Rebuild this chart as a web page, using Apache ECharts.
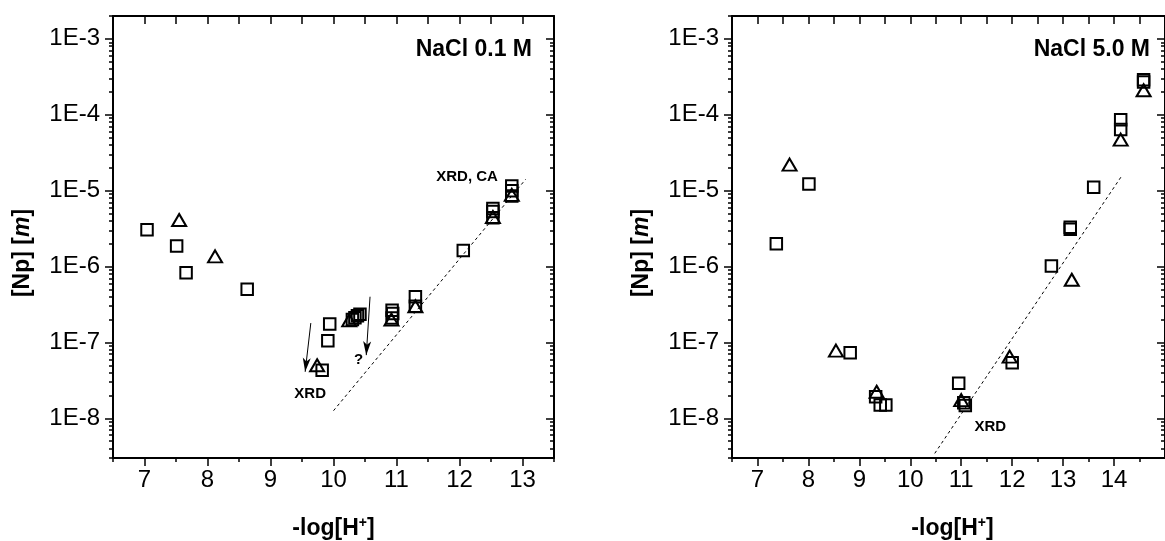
<!DOCTYPE html>
<html><head><meta charset="utf-8">
<script src="https://cdn.jsdelivr.net/npm/echarts@6/dist/echarts.min.js"></script>
<style>html,body{margin:0;padding:0;background:#fff}#c{width:1165px;height:541px}</style>
</head><body><div id="c"></div><script>
// ---------- data ----------
const xTickLabelsLow = [7, 8, 9, 10, 11, 12, 13];
const xTickLabelsHigh = [7, 8, 9, 10, 11, 12, 13, 14];
const yTickValues = [1e-8, 1e-7, 1e-6, 1e-5, 1e-4, 1e-3];

// NaCl 0.1 M panel
const lowSquares = [
  [7.04, 3.05e-6], [7.51, 1.87e-6], [7.66, 8.3e-7], [8.63, 5.0e-7],
  [9.94, 1.75e-7], [9.91, 1.05e-7], [9.82, 4.3e-8],
  [10.30, 2.0e-7], [10.34, 2.12e-7], [10.38, 2.24e-7], [10.42, 2.35e-7],
  [10.93, 2.65e-7], [10.94, 2.4e-7], [10.93, 2.1e-7],
  [11.30, 4.0e-7], [11.30, 3.0e-7],
  [12.06, 1.63e-6], [12.53, 5.8e-6], [12.53, 5.3e-6], [12.53, 4.4e-6],
  [12.83, 1.15e-5], [12.83, 1.0e-5], [12.83, 8.5e-6]
];
const lowTriangles = [
  [7.55, 4.1e-6], [8.12, 1.36e-6], [9.74, 5.0e-8], [10.25, 1.95e-7],
  [10.92, 2.0e-7], [11.30, 3.0e-7], [12.53, 4.5e-6], [12.83, 8.8e-6]
];
const lowFit = [[10.0, 1.26e-8], [13.05, 1.41e-5]];
const lowArrows = [
  [[9.64, 1.8e-7], [9.55, 4.1e-8]],
  [[10.58, 4.0e-7], [10.52, 6.8e-8]]
];
const lowNotes = ['XRD', '?', 'XRD, CA'];
const lowNotePos = [[9.63, 2.1e-8], [10.40, 5.9e-8], [12.12, 1.54e-5]];

// NaCl 5.0 M panel
const highSquares = [
  [7.37, 2.0e-6], [8.01, 1.22e-5], [8.82, 7.3e-8],
  [9.32, 1.93e-8], [9.41, 1.5e-8], [9.52, 1.5e-8],
  [10.95, 2.9e-8], [11.05, 1.6e-8], [11.08, 1.47e-8],
  [12.0, 5.4e-8], [12.77, 1.02e-6], [13.14, 3.3e-6], [13.14, 3.1e-6],
  [13.6, 1.11e-5], [14.13, 8.6e-5], [14.13, 6.4e-5],
  [14.58, 2.9e-4], [14.58, 2.7e-4]
];
const highTriangles = [
  [7.63, 2.2e-5], [8.54, 7.8e-8], [9.34, 2.24e-8], [11.0, 1.74e-8],
  [11.95, 6.5e-8], [13.17, 6.7e-7], [14.13, 4.7e-5], [14.58, 2.1e-4]
];
const highFit = [[10.48, 3.45e-9], [14.15, 1.56e-5]];
const highNotes = ['XRD'];
const highNotePos = [[11.57, 7.7e-9]];

const panelTitles = ['NaCl 0.1 M', 'NaCl 5.0 M'];

// ---------- layout / style ----------
const FONT = '"Liberation Sans", Arial, sans-serif';
const X_MIN = 6.5, X_MAX = [13.5, 15];
const Y_MIN = 3e-9, Y_MAX = 2e-3;
const GRID_LEFT = [113, 732], GRID_TOP = 16, GRID_W = 441, GRID_H = 442;

function halfSteps(min, max) {
  const a = [];
  for (let v = min; v <= max + 1e-9; v += 0.5) a.push(+v.toFixed(1));
  return a;
}
function minorLog(min, max) {
  const a = [];
  for (let d = -9; d <= -3; d++) for (let k = 2; k <= 9; k++) {
    const v = +(k * Math.pow(10, d)).toPrecision(3);
    if (v >= min && v <= max) a.push(v);
  }
  return a;
}
const yMinor = minorLog(Y_MIN, Y_MAX);

const lineBlack = { color: '#000', width: 2 };
const tickBlack = { color: '#000', width: 1.5 };

const grids = [], xAxes = [], yAxes = [], series = [];
[0, 1].forEach(g => {
  grids.push({ left: GRID_LEFT[g], top: GRID_TOP, width: GRID_W, height: GRID_H, containLabel: false });
  const xt = g === 0 ? xTickLabelsLow : xTickLabelsHigh;
  const base = { type: 'value', gridIndex: g, min: X_MIN, max: X_MAX[g], splitLine: { show: false } };
  const xi = xAxes.length;
  xAxes.push(Object.assign({}, base, {
    position: 'bottom',
    axisLine: { show: true, lineStyle: lineBlack },
    axisTick: { show: true, customValues: xt, length: 8, lineStyle: tickBlack },
    axisLabel: { customValues: xt, color: '#000', fontSize: 24, fontFamily: FONT, margin: 10 }
  }));
  xAxes.push(Object.assign({}, base, {
    position: 'bottom',
    axisLine: { show: false },
    axisTick: { show: true, customValues: halfSteps(X_MIN, X_MAX[g]).filter(v => v % 1 !== 0), length: 4, lineStyle: tickBlack },
    axisLabel: { show: false }
  }));
  xAxes.push(Object.assign({}, base, {
    position: 'top',
    axisLine: { show: true, lineStyle: lineBlack },
    axisTick: { show: true, inside: true, customValues: halfSteps(X_MIN, X_MAX[g]), length: 8, lineStyle: tickBlack },
    axisLabel: { show: false }
  }));
  const ybase = { type: 'log', logBase: 10, gridIndex: g, min: Y_MIN, max: Y_MAX, splitLine: { show: false } };
  const yi = yAxes.length;
  yAxes.push(Object.assign({}, ybase, {
    position: 'left',
    axisLine: { show: true, lineStyle: lineBlack },
    axisTick: { show: true, customValues: yTickValues, length: 8, lineStyle: tickBlack },
    axisLabel: { customValues: yTickValues, color: '#000', fontSize: 24, fontFamily: FONT, margin: 13,
      formatter: v => '1E' + Math.round(Math.log10(v)) }
  }));
  yAxes.push(Object.assign({}, ybase, {
    position: 'left',
    axisLine: { show: false },
    axisTick: { show: true, customValues: yMinor, length: 4, lineStyle: tickBlack },
    axisLabel: { show: false }
  }));
  yAxes.push(Object.assign({}, ybase, {
    position: 'right',
    axisLine: { show: true, lineStyle: lineBlack },
    axisTick: { show: true, inside: true, customValues: yTickValues, length: 8, lineStyle: tickBlack },
    axisLabel: { show: false }
  }));
  yAxes.push(Object.assign({}, ybase, {
    position: 'right',
    axisLine: { show: false },
    axisTick: { show: true, inside: true, customValues: yMinor, length: 4, lineStyle: tickBlack },
    axisLabel: { show: false }
  }));

  const sq = g === 0 ? lowSquares : highSquares;
  const tr = g === 0 ? lowTriangles : highTriangles;
  const fit = g === 0 ? lowFit : highFit;
  const arrows = g === 0 ? lowArrows : [];
  const notes = g === 0 ? lowNotes : highNotes;
  const notePos = g === 0 ? lowNotePos : highNotePos;
  const hollow = { color: 'rgba(0,0,0,0)', borderColor: '#000', borderWidth: 2, opacity: 1 };

  series.push({
    type: 'line', xAxisIndex: xi, yAxisIndex: yi, data: fit, symbol: 'none', silent: true,
    lineStyle: { color: '#000', width: 1, type: [3, 3] }, z: 2,
    markLine: arrows.length ? {
      silent: true, symbol: ['none', 'arrow'], symbolSize: [6, 14], precision: 10,
      label: { show: false }, lineStyle: { color: '#000', width: 1, type: 'solid', opacity: 1 },
      data: arrows.map(a => [{ coord: a[0] }, { coord: a[1] }])
    } : undefined
  });
  series.push({
    type: 'scatter', xAxisIndex: xi, yAxisIndex: yi, data: sq, symbol: 'rect', symbolSize: 11.5,
    itemStyle: hollow, z: 3, silent: true
  });
  series.push({
    type: 'scatter', xAxisIndex: xi, yAxisIndex: yi, data: tr, symbol: 'triangle', symbolSize: [14, 12],
    itemStyle: hollow, z: 3, silent: true
  });
  series.push({
    type: 'scatter', xAxisIndex: xi, yAxisIndex: yi, symbolSize: 1, silent: true,
    itemStyle: { color: 'rgba(0,0,0,0)', opacity: 1 },
    data: notes.map((t, i) => ({ name: t, value: notePos[i] })),
    label: { show: true, position: 'inside', formatter: p => p.name, color: '#000',
      fontSize: 15, fontWeight: 'bold', fontFamily: FONT }
  });
});

const titleRich = {
  b: { fontSize: 23, fontWeight: 'bold', fontFamily: FONT, color: '#000', lineHeight: 26 },
  i: { fontSize: 23, fontWeight: 'bold', fontStyle: 'italic', fontFamily: FONT, color: '#000', lineHeight: 26 },
  s: { fontSize: 14, fontWeight: 'bold', fontFamily: FONT, color: '#000', lineHeight: 14, verticalAlign: 'top' }
};
const graphics = [];
[0, 1].forEach(g => {
  const cx = GRID_LEFT[g] + GRID_W / 2;
  graphics.push({
    type: 'text', x: GRID_LEFT[g] - 90, y: 253, rotation: Math.PI / 2,
    style: { text: '{b|[Np] [}{i|m}{b|]}', rich: titleRich, align: 'center', verticalAlign: 'middle' }
  });
  graphics.push({
    type: 'text', x: cx, y: 529,
    style: { text: '{b|-log[H}{s|+}{b|]}', rich: titleRich, align: 'center', verticalAlign: 'middle' }
  });
  graphics.push({
    type: 'text', x: g === 0 ? 532 : 1150, y: 50,
    style: { text: panelTitles[g], font: 'bold 23px ' + FONT, fill: '#000', align: 'right', verticalAlign: 'middle' }
  });
});

const chart = echarts.init(document.getElementById('c'), null, { renderer: 'canvas' });
chart.setOption({
  animation: false,
  backgroundColor: '#fff',
  textStyle: { fontFamily: FONT },
  grid: grids, xAxis: xAxes, yAxis: yAxes, series: series, graphic: graphics
});
</script></body></html>
